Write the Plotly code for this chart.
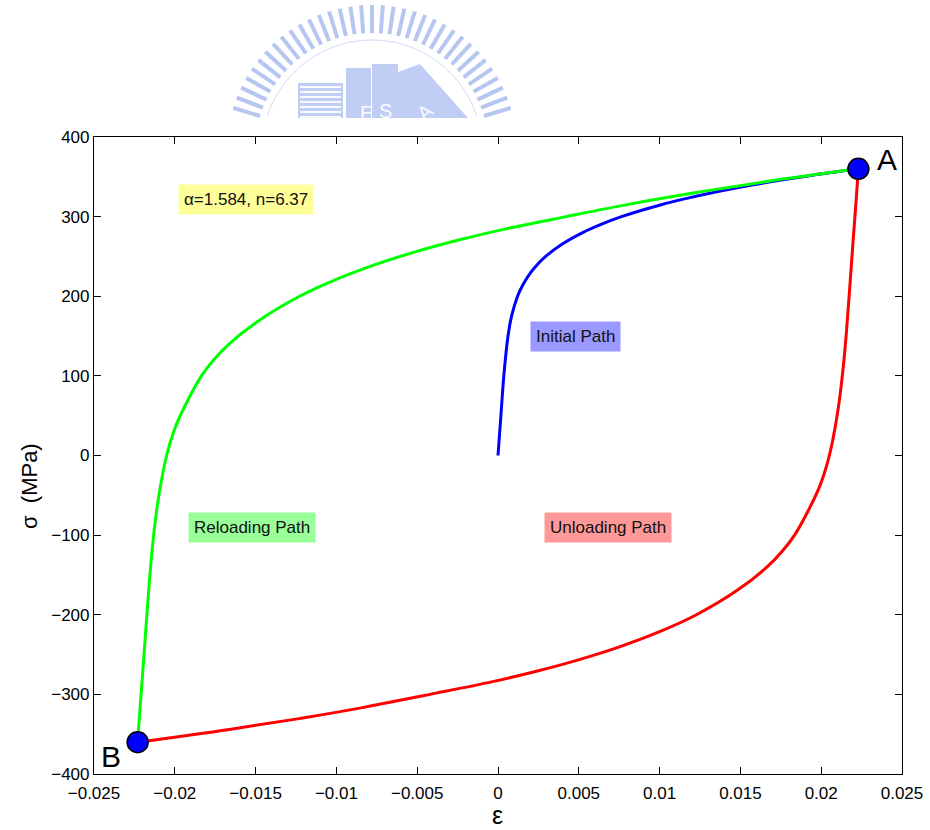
import math
import plotly.graph_objects as go

# Stress-strain hysteresis (Ramberg-Osgood, Masing behaviour)
initial_eps = [0, 0.00018, 0.00036, 0.00062, 0.00084, 0.00121, 0.00156, 0.00203, 0.00244,
               0.00295, 0.00393, 0.00524, 0.00634, 0.00764, 0.0101, 0.01147, 0.01325,
               0.0158, 0.01724, 0.01946, 0.0223]
initial_sig = [0, 50, 100, 150, 175, 200, 215, 230, 240,
               250, 265, 280, 290, 300, 315, 322, 330,
               340, 345, 352, 360]

reload_eps = [-0.0223, -0.02216, -0.02194, -0.02158, -0.02136, -0.02106, -0.02062, -0.02029,
              -0.01988, -0.01918, -0.01835, -0.0176, -0.01665, -0.01476, -0.01228, -0.01015,
              -0.00756, -0.00508, -0.00256, 0.00034, 0.0042, 0.00822, 0.01218, 0.01662, 0.0223]
reload_sig = [-360, -320, -260, -160, -110, -60, -10, 16,
              40, 70, 100, 120, 140, 170, 200, 220,
              240, 256, 270, 284, 300, 316, 330, 344, 360]

unload_eps = [0.0223, 0.02216, 0.02194, 0.02158, 0.02136, 0.02106, 0.02062, 0.02029,
              0.01988, 0.01918, 0.01835, 0.0176, 0.01665, 0.01476, 0.01228, 0.01015,
              0.00756, 0.00508, 0.00256, -0.00034, -0.0042, -0.00822, -0.01218, -0.01662, -0.0223]
unload_sig = [360, 320, 260, 160, 110, 60, 10, -16,
              -40, -70, -100, -120, -140, -170, -200, -220,
              -240, -256, -270, -284, -300, -316, -330, -344, -360]

point_names = ["A", "B"]
point_eps = [0.0223, -0.0223]
point_sig = [360, -360]

x_ticks = [-0.025, -0.02, -0.015, -0.01, -0.005, 0, 0.005, 0.01, 0.015, 0.02, 0.025]
x_tick_text = ["\u22120.025", "\u22120.02", "\u22120.015", "\u22120.01", "\u22120.005", "0",
               "0.005", "0.01", "0.015", "0.02", "0.025"]
y_ticks = [-400, -300, -200, -100, 0, 100, 200, 300, 400]
y_tick_text = ["\u2212400", "\u2212300", "\u2212200", "\u2212100", "0", "100", "200", "300", "400"]

FONT = "Liberation Sans, Arial, Helvetica, sans-serif"
W, H = 930, 830
L, R, T, B = 94, 28, 137, 56
PW, PH = W - L - R, H - T - B


def px(x, y):
    """pixel position -> paper coordinates"""
    return (x - L) / PW, (H - B - y) / PH


fig = go.Figure()

line_style = dict(width=3, shape="spline", smoothing=1.0)
fig.add_trace(go.Scatter(x=initial_eps, y=initial_sig, mode="lines",
                         line=dict(color="#0000ff", **line_style), showlegend=False))
fig.add_trace(go.Scatter(x=unload_eps, y=unload_sig, mode="lines",
                         line=dict(color="#ff0000", **line_style), showlegend=False))
fig.add_trace(go.Scatter(x=reload_eps, y=reload_sig, mode="lines",
                         line=dict(color="#00ff00", **line_style), showlegend=False))
fig.add_trace(go.Scatter(x=point_eps, y=point_sig, mode="markers",
                         marker=dict(symbol="circle", size=21, color="#0000ff",
                                     line=dict(color="black", width=1.5)),
                         showlegend=False))

# point labels
fig.add_annotation(x=point_eps[0], y=point_sig[0], text=point_names[0], showarrow=False,
                   xanchor="left", yanchor="middle", xshift=17, yshift=9,
                   font=dict(family=FONT, size=30, color="black"))
fig.add_annotation(x=point_eps[1], y=point_sig[1], text=point_names[1], showarrow=False,
                   xanchor="right", yanchor="middle", xshift=-15, yshift=-14,
                   font=dict(family=FONT, size=30, color="black"))

# path labels
box_font = dict(family=FONT, size=17, color="#111111")
fig.add_annotation(x=-0.0156, y=321, text="\u03b1=1.584, n=6.37", showarrow=False,
                   bgcolor="#ffff99", borderpad=5, font=box_font)
fig.add_annotation(x=0.00477, y=149, text="Initial Path", showarrow=False,
                   bgcolor="#9999ff", borderpad=5, font=box_font)
fig.add_annotation(x=-0.01524, y=-91, text="Reloading Path", showarrow=False,
                   bgcolor="#99ff99", borderpad=5, font=box_font)
fig.add_annotation(x=0.00679, y=-91, text="Unloading Path", showarrow=False,
                   bgcolor="#ff9999", borderpad=5, font=box_font)

# axis titles
ya, yb = px(30, 486)
fig.add_annotation(xref="paper", yref="paper", x=ya, y=yb, text="\u03c3  (MPa)",
                   showarrow=False, textangle=-90, xanchor="center", yanchor="middle",
                   font=dict(family=FONT, size=22, color="black"))
xa, xb = px(497, 815)
fig.add_annotation(xref="paper", yref="paper", x=xa, y=xb, text="\u03b5",
                   showarrow=False, xanchor="center", yanchor="middle",
                   font=dict(family=FONT, size=25, color="black"))

# watermark emblem above the axes
shapes = []
cx, cy, rad = 372, 150, 145
wm = "rgba(135,160,232,0.6)"
for k in range(0, 41):
    ang = math.radians(4 + k * 4.3)
    r0, r1 = rad - 28, rad
    x0, y0 = cx + r0 * math.cos(ang), cy - r0 * math.sin(ang)
    x1, y1 = cx + r1 * math.cos(ang), cy - r1 * math.sin(ang)
    if y0 > 118:
        continue
    y1 = min(y1, 118)
    a0, b0 = px(x0, y0)
    a1, b1 = px(x1, y1)
    shapes.append(dict(type="line", xref="paper", yref="paper", x0=a0, y0=b0, x1=a1, y1=b1,
                       line=dict(color=wm, width=4), layer="above"))
# thin inner ring
ring = []
for k in range(0, 181, 3):
    ang = math.radians(k)
    xx, yy = cx + 110 * math.cos(ang), cy - 110 * math.sin(ang)
    if yy <= 118:
        ring.append(px(xx, yy))
if ring:
    path = "M " + " L ".join(f"{a:.5f},{b:.5f}" for a, b in ring)
    shapes.append(dict(type="path", xref="paper", yref="paper", path=path,
                       line=dict(color="rgba(160,180,235,0.5)", width=1)))
# building blocks
block = "rgba(150,172,236,0.6)"
for (x0, y0, x1, y1) in [(298, 83, 343, 118), (346, 68, 371, 118), (372, 64, 398, 118)]:
    a0, b0 = px(x0, y0)
    a1, b1 = px(x1, y1)
    shapes.append(dict(type="rect", xref="paper", yref="paper", x0=a0, y0=b1, x1=a1, y1=b0,
                       fillcolor=block, line=dict(width=0)))
for yy in range(87, 118, 5):
    a0, b0 = px(300, yy)
    a1, _ = px(341, yy)
    shapes.append(dict(type="line", xref="paper", yref="paper", x0=a0, y0=b0, x1=a1, y1=b0,
                       line=dict(color="rgba(255,255,255,0.9)", width=2)))
tri = [px(398, 118), px(398, 72), px(420, 64), px(468, 118)]
shapes.append(dict(type="path", xref="paper", yref="paper",
                   path="M " + " L ".join(f"{a:.5f},{b:.5f}" for a, b in tri) + " Z",
                   fillcolor=block, line=dict(width=0)))
for ch, x, y, ang in [("E", 358, 100, 0), ("S", 385, 98, 0), ("A", 425, 96, -40)]:
    a, b = px(x, y)
    fig.add_annotation(xref="paper", yref="paper", x=a, y=b, text=ch, showarrow=False,
                       textangle=ang,
                       font=dict(family=FONT, size=20, color="rgba(255,255,255,0.95)"))

axis_common = dict(ticks="inside", ticklen=7, tickcolor="black", showline=True,
                   linecolor="black", linewidth=1.2, mirror="ticks", showgrid=False,
                   zeroline=False, automargin=False, tickfont=dict(family=FONT, size=17))

fig.update_layout(
    width=W, height=H,
    margin=dict(l=L, r=R, t=T, b=B, autoexpand=False),
    paper_bgcolor="white", plot_bgcolor="white",
    shapes=shapes,
    font=dict(family=FONT, size=17, color="black"),
    xaxis=dict(range=[-0.025, 0.025], tickvals=x_ticks, ticktext=x_tick_text,
               ticklabelstandoff=3, **axis_common),
    yaxis=dict(range=[-400, 400], tickvals=y_ticks, ticktext=y_tick_text, **axis_common),
)

fig.write_html("out.html")
